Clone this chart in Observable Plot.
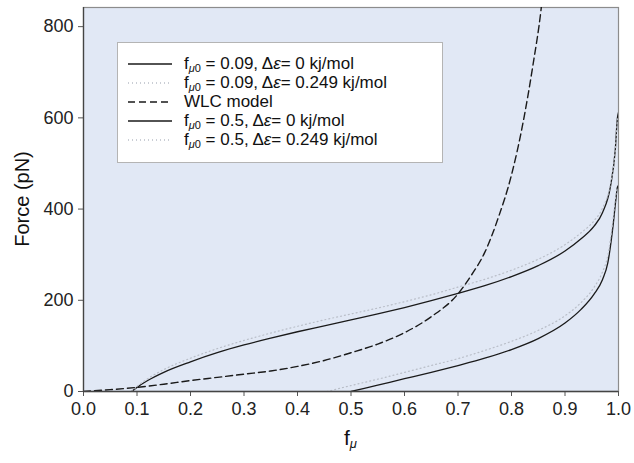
<!DOCTYPE html>
<html>
<head>
<meta charset="utf-8">
<script src="https://cdn.jsdelivr.net/npm/d3@7"></script>
<script src="https://cdn.jsdelivr.net/npm/@observablehq/plot@0.6"></script>
<style>
  body { margin: 0; background: #ffffff; }
  #wrap { position: relative; width: 634px; height: 463px; font-family: "Liberation Sans", Arial, sans-serif; }
  #legend { position: absolute; left: 117px; top: 42px; width: 324px; height: 119px; background: #ffffff; border: 1px solid #b4b4b4; }
  .row { position: absolute; left: 8px; height: 19px; display: flex; align-items: center; font-size: 17px; color: #111; white-space: nowrap; }
  .row svg { margin-right: 10px; }
  sub { font-size: 11px; vertical-align: -3px; line-height: 0; }
  #xlabel { position: absolute; left: 344px; top: 426px; font-size: 21px; color: #111; }
  #xlabel sub { font-size: 13px; }
  #ylabel { position: absolute; left: 22px; top: 199px; font-size: 20px; color: #111; transform: translate(-50%, -50%) rotate(-90deg); white-space: nowrap; }
</style>
</head>
<body>
<div id="wrap"></div>
<script>
// ---- data ----
const xTicks = [0, 0.1, 0.2, 0.3, 0.4, 0.5, 0.6, 0.7, 0.8, 0.9, 1.0];
const yTicks = [0, 200, 400, 600, 800];

// f_mu0 = 0.09, delta eps = 0
const fA     = [0.09, 0.1, 0.12, 0.15, 0.2, 0.25, 0.3, 0.35, 0.4, 0.45, 0.5, 0.55, 0.6, 0.65, 0.7, 0.75, 0.8, 0.85, 0.9, 0.93, 0.954, 0.97, 0.985, 0.994, 0.998, 1.0];
const forceA = [0, 9, 24, 42, 65, 85, 102, 117, 131, 144, 157, 170, 184, 199, 215, 232, 252, 276, 308, 335, 362, 392, 450, 530, 600, 612];

// f_mu0 = 0.09, delta eps = 0.249
const fA2     = [0.09, 0.1, 0.12, 0.15, 0.2, 0.25, 0.3, 0.35, 0.4, 0.45, 0.5, 0.55, 0.6, 0.65, 0.7, 0.75, 0.8, 0.85, 0.9, 0.93, 0.954, 0.97, 0.985, 0.994, 0.998];
const forceA2 = [0, 11, 28, 48, 73, 94, 112, 128, 143, 157, 170, 183, 197, 212, 229, 246, 266, 290, 322, 348, 374, 402, 455, 530, 598];

// WLC model
const fW     = [0, 0.05, 0.1, 0.15, 0.2, 0.25, 0.3, 0.35, 0.4, 0.45, 0.5, 0.55, 0.6, 0.65, 0.7, 0.725, 0.75, 0.775, 0.8, 0.82, 0.84, 0.855, 0.865];
const forceW = [0, 4, 9, 16, 24, 31, 38, 45, 55, 68, 85, 104, 129, 164, 214, 255, 305, 380, 475, 580, 715, 835, 950];

// f_mu0 = 0.5, delta eps = 0
const fB     = [0.5, 0.55, 0.6, 0.65, 0.7, 0.75, 0.8, 0.85, 0.9, 0.93, 0.954, 0.97, 0.98, 0.99, 0.995, 0.998, 1.0];
const forceB = [0, 14, 28, 42, 57, 73, 92, 116, 150, 180, 213, 245, 282, 365, 420, 448, 452];

// f_mu0 = 0.5, delta eps = 0.249
const fB2     = [0.455, 0.5, 0.55, 0.6, 0.65, 0.7, 0.75, 0.8, 0.85, 0.9, 0.93, 0.954, 0.97, 0.98, 0.99, 0.995, 0.998];
const forceB2 = [0, 13, 27, 42, 57, 72, 90, 110, 134, 166, 195, 228, 262, 298, 380, 430, 448];

const series = [
  {key: "A",  f: fA,  F: forceA,  stroke: "#1a1a1a", dash: null,  width: 1.3},
  {key: "A2", f: fA2, F: forceA2, stroke: "#b9bec8", dash: "1,3", width: 1.2},
  {key: "W",  f: fW,  F: forceW,  stroke: "#1a1a1a", dash: "7,4", width: 1.4},
  {key: "B",  f: fB,  F: forceB,  stroke: "#1a1a1a", dash: null,  width: 1.3},
  {key: "B2", f: fB2, F: forceB2, stroke: "#b9bec8", dash: "1,3", width: 1.2}
];

const lineMarks = series.map(s => Plot.line(
  s.f.map((v, i) => ({x: v, y: s.F[i]})),
  {x: "x", y: "y", stroke: s.stroke, strokeWidth: s.width, strokeDasharray: s.dash, curve: "monotone-x", clip: true}
));

const chart = Plot.plot({
  width: 634,
  height: 463,
  marginLeft: 83,
  marginRight: 16,
  marginTop: 7,
  marginBottom: 72,
  style: {fontFamily: "Liberation Sans, Arial, sans-serif", fontSize: "18px", color: "#222", background: "#ffffff"},
  x: {domain: [0, 1]},
  y: {domain: [0, 842]},
  marks: [
    Plot.frame({fill: "#e1e8f5", stroke: "#8c8c8c", strokeWidth: 1.2}),
    Plot.axisX({ticks: xTicks, tickFormat: d => d.toFixed(1), tickSize: 5, tickPadding: 6, label: null, fontSize: 18, stroke: "#555"}),
    Plot.axisY({ticks: yTicks, tickSize: 5, tickPadding: 5, label: null, fontSize: 18, stroke: "#555"}),
    ...lineMarks,
    Plot.ruleY([0], {stroke: "#444", strokeWidth: 1.3}),
    Plot.ruleX([0], {stroke: "#444", strokeWidth: 1.3})
  ]
});

const wrap = document.getElementById("wrap");
wrap.appendChild(chart);

// legend
const legendRows = [
  {dash: null,  stroke: "#1a1a1a", html: 'f<sub><i>μ</i>0</sub> = 0.09, Δ<i>ε</i>= 0 kj/mol'},
  {dash: "1,3", stroke: "#b9bec8", html: 'f<sub><i>μ</i>0</sub> = 0.09, Δ<i>ε</i>= 0.249 kj/mol'},
  {dash: "7,4", stroke: "#1a1a1a", html: 'WLC model'},
  {dash: null,  stroke: "#1a1a1a", html: 'f<sub><i>μ</i>0</sub> = 0.5, Δ<i>ε</i>= 0 kj/mol'},
  {dash: "1,3", stroke: "#b9bec8", html: 'f<sub><i>μ</i>0</sub> = 0.5, Δ<i>ε</i>= 0.249 kj/mol'}
];
const legend = document.createElement("div");
legend.id = "legend";
legendRows.forEach((r, i) => {
  const row = document.createElement("div");
  row.className = "row";
  row.style.top = (11 + i * 19) + "px";
  row.innerHTML = `<svg width="48" height="10"><line x1="2" y1="5" x2="46" y2="5" stroke="${r.stroke}" stroke-width="1.3" ${r.dash ? `stroke-dasharray="${r.dash}"` : ""}/></svg><span>${r.html}</span>`;
  legend.appendChild(row);
});
wrap.appendChild(legend);

const xl = document.createElement("div");
xl.id = "xlabel";
xl.innerHTML = 'f<sub><i>μ</i></sub>';
wrap.appendChild(xl);

const yl = document.createElement("div");
yl.id = "ylabel";
yl.textContent = "Force (pN)";
wrap.appendChild(yl);
</script>
</body>
</html>
